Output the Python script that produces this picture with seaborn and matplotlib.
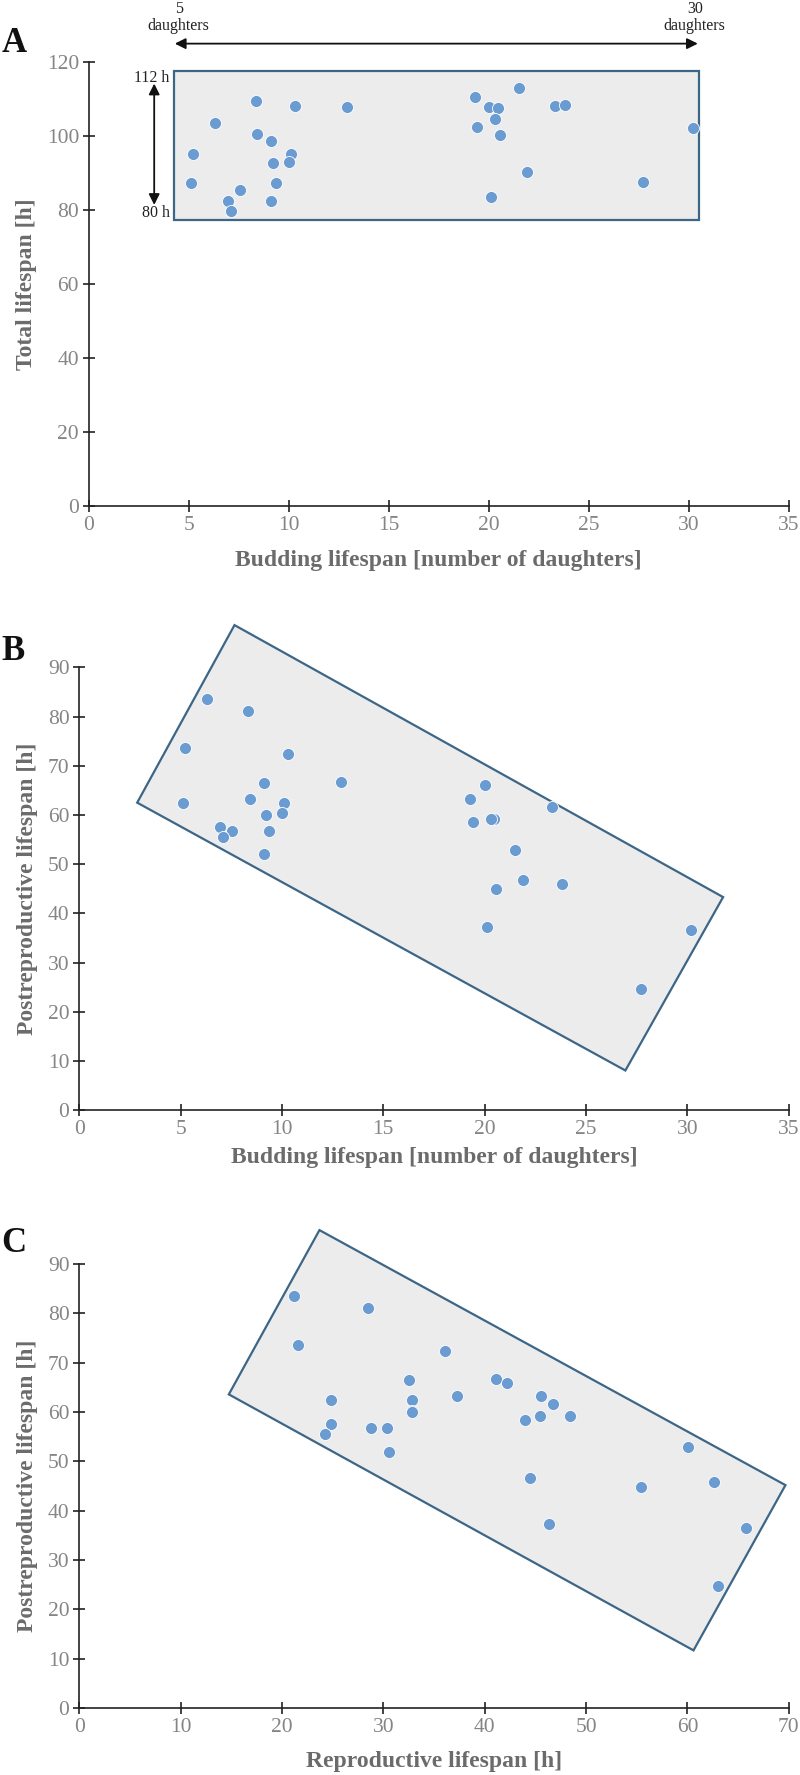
import numpy as np
import pandas as pd
import seaborn as sns
import matplotlib
matplotlib.use("Agg")
import matplotlib.pyplot as plt
from matplotlib.patches import Polygon

# values, one entry per cell
budding = [8.35, 10.3, 12.9, 6.3, 8.4, 9.1, 5.2, 10.1, 10.0, 9.2, 5.1, 9.35, 7.55, 6.95, 9.1,
           7.1, 19.3, 21.5, 20.0, 20.45, 20.3, 19.4, 20.55, 23.3, 23.8, 30.2, 21.9, 27.7, 20.1]
total = [109.5, 108.1, 107.8, 103.6, 100.5, 98.8, 95.1, 95.2, 93.1, 92.6, 87.3, 87.2, 85.5, 82.4, 82.5,
         79.7, 110.6, 112.9, 108.0, 107.6, 104.7, 102.5, 100.3, 108.1, 108.4, 102.1, 90.4, 87.6, 83.5]
post = [81.1, 72.3, 66.7, 83.5, 63.3, 66.5, 73.7, 62.5, 60.3, 60.0, 62.5, 56.8, 56.8, 57.6, 52.0,
        55.6, 63.3, 52.9, 66.0, 59.2, 59.2, 58.5, 44.9, 61.6, 45.9, 36.6, 46.7, 24.7, 37.3]
repro = [28.5, 36.1, 41.1, 21.2, 37.3, 32.5, 21.6, 32.8, 32.8, 32.8, 24.8, 30.4, 28.8, 24.8, 30.6,
         24.2, 45.6, 60.1, 42.2, 48.4, 45.5, 44.0, 55.4, 46.7, 62.6, 65.8, 44.5, 63.0, 46.3]

# shaded regions (data coords)
box_a = [(4.25, 77.3), (30.5, 77.3), (30.5, 117.6), (4.25, 117.6)]
box_b = [(2.86, 62.5), (7.66, 98.6), (31.76, 43.3), (26.94, 8.05)]
box_c = [(14.76, 63.6), (23.7, 96.9), (69.67, 45.2), (60.6, 11.7)]

df = pd.DataFrame({"budding": budding, "total": total, "post": post, "repro": repro})

sns.set_style("ticks")
plt.rcParams['font.family'] = ['Liberation Serif', 'DejaVu Serif']

dot = "#6a9bd1"
edge = "#3d6686"
fill = "#ececec"
tickc = "#858585"
labc = "#6b6b6b"

fig = plt.figure(figsize=(8, 17.75), dpi=100)
ax_a = fig.add_axes([0.111, 0.7149, 0.875, 0.2501])
ax_b = fig.add_axes([0.099, 0.3746, 0.887, 0.2494])
ax_c = fig.add_axes([0.099, 0.0377, 0.887, 0.2501])


def style(ax, xlim, ylim, xstep, ystep, box):
    ax.add_patch(Polygon(box, closed=True, facecolor=fill, edgecolor=edge, lw=1.6,
                         clip_on=False, zorder=1))
    ax.set_xlim(*xlim)
    ax.set_ylim(*ylim)
    ax.set_xticks(np.arange(xlim[0], xlim[1] + 1, xstep))
    ax.set_yticks(np.arange(ylim[0], ylim[1] + 1, ystep))
    sns.despine(ax=ax)
    for s in ["left", "bottom"]:
        ax.spines[s].set_color("#222222")
        ax.spines[s].set_linewidth(1.2)
    ax.tick_params(direction="inout", length=8, width=1.2, color="#222222",
                   labelcolor=tickc, labelsize=15.5, pad=3)
    ax.set_facecolor("none")


def labels(ax, xlabel, ylabel, xpad):
    ax.set_xlabel(xlabel, fontsize=17, fontweight="bold", color=labc, labelpad=xpad)
    ax.set_ylabel(ylabel, fontsize=17, fontweight="bold", color=labc, labelpad=7)


# A
style(ax_a, (0, 35), (0, 120), 5, 20, box_a)
sns.scatterplot(data=df, x="budding", y="total", ax=ax_a, color=dot, s=75,
                edgecolor="white", linewidth=0.6, zorder=3, clip_on=False)
labels(ax_a, "Budding lifespan [number of daughters]", "Total lifespan [h]", 11)
ax_a.annotate("", xy=(4.3, 125), xytext=(30.45, 125), annotation_clip=False,
              arrowprops=dict(arrowstyle="<|-|>", color="#111111", lw=1.3,
                              mutation_scale=16, shrinkA=0, shrinkB=0))
ax_a.annotate("", xy=(3.27, 114.2), xytext=(3.27, 81.4), annotation_clip=False,
              arrowprops=dict(arrowstyle="<|-|>", color="#111111", lw=1.3,
                              mutation_scale=16, shrinkA=0, shrinkB=0))
ax_a.text(4.5, 127.5, "5\ndaughters", ha="center", va="bottom", fontsize=11.5,
          color="#222222", linespacing=1.15, clip_on=False)
ax_a.text(30.3, 127.5, "30\ndaughters", ha="center", va="bottom", fontsize=11.5,
          color="#222222", linespacing=1.15, clip_on=False)
ax_a.text(4.05, 115.7, "112 h", ha="right", va="center", fontsize=11.5, color="#222222")
ax_a.text(4.05, 79.1, "80 h", ha="right", va="center", fontsize=11.5, color="#222222")

# B
style(ax_b, (0, 35), (0, 90), 5, 10, box_b)
sns.scatterplot(data=df, x="budding", y="post", ax=ax_b, color=dot, s=75,
                edgecolor="white", linewidth=0.6, zorder=3, clip_on=False)
labels(ax_b, "Budding lifespan [number of daughters]", "Postreproductive lifespan [h]", 6)

# C
style(ax_c, (0, 70), (0, 90), 10, 10, box_c)
sns.scatterplot(data=df, x="repro", y="post", ax=ax_c, color=dot, s=75,
                edgecolor="white", linewidth=0.6, zorder=3, clip_on=False)
labels(ax_c, "Reproductive lifespan [h]", "Postreproductive lifespan [h]", 10)

for lab, y in [("A", 1 - 43 / 1775), ("B", 1 - 652 / 1775), ("C", 1 - 1243 / 1775)]:
    fig.text(0.002, y, lab, fontsize=25, fontweight="bold", color="#111111",
             ha="left", va="center")

fig.savefig("out.png", dpi=100)
